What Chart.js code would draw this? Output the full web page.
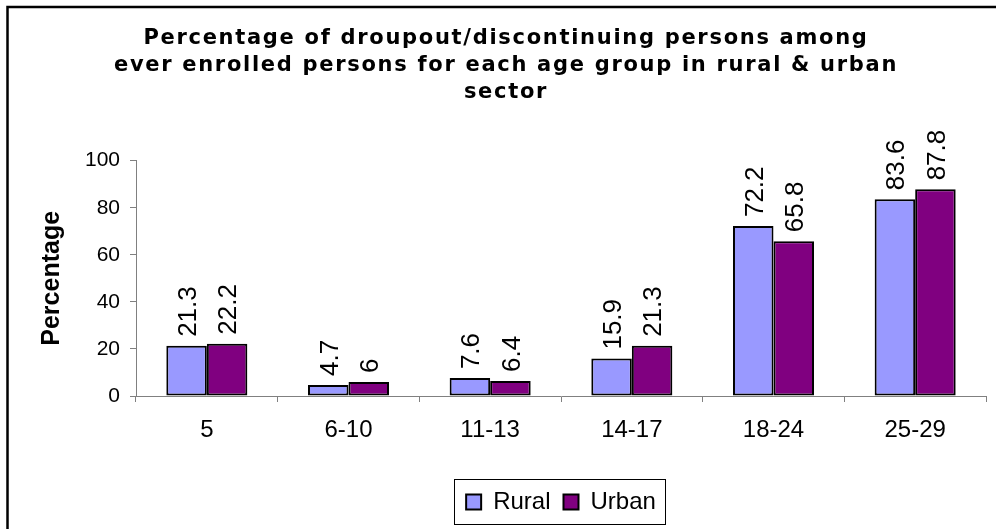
<!DOCTYPE html>
<html>
<head>
<meta charset="utf-8">
<script src="https://cdn.jsdelivr.net/npm/chart.js@4/dist/chart.umd.min.js"></script>
<style>
  html, body { margin: 0; padding: 0; background: #ffffff; }
  #wrap { width: 996px; height: 529px; position: relative; }
</style>
</head>
<body>
<div id="wrap"><canvas id="c" width="996" height="529"></canvas></div>
<script>
const categories = ["5", "6-10", "11-13", "14-17", "18-24", "25-29"];
const ruralValues = [21.3, 4.7, 7.6, 15.9, 72.2, 83.6];
const urbanValues = [22.2, 6, 6.4, 21.3, 65.8, 87.8];
const seriesNames = ["Rural", "Urban"];
const titleLines = [
  "Percentage of droupout/discontinuing persons among",
  "ever enrolled persons for each age group in rural & urban",
  "sector"
];
const yAxisTitle = "Percentage";
const yTickValues = [0, 20, 40, 60, 80, 100];

const frameBorder = {
  id: 'frameBorder',
  afterDraw(chart) {
    const ctx = chart.ctx;
    ctx.save();
    ctx.strokeStyle = '#000';
    ctx.lineWidth = 2.5;
    ctx.strokeRect(7.5, 7, 1200, 1200);
    ctx.restore();
  }
};

const titleSpacing = {
  id: 'titleSpacing',
  beforeDraw(chart) {
    const tb = chart.titleBlock;
    if (tb && !tb._spaced) {
      const orig = tb.draw.bind(tb);
      tb.draw = function () {
        const ctx = chart.ctx;
        ctx.save();
        ctx.letterSpacing = '1.7px';
        orig();
        ctx.restore();
      };
      tb._spaced = true;
    }
  }
};

const legendBorder = {
  id: 'legendBorder',
  afterDraw(chart) {
    const lg = chart.legend;
    if (!lg || !lg.legendHitBoxes || !lg.legendHitBoxes.length) return;
    const hb = lg.legendHitBoxes;
    let l = Infinity, r = -Infinity, t = Infinity, b = -Infinity;
    hb.forEach(h => {
      l = Math.min(l, h.left); r = Math.max(r, h.left + h.width);
      t = Math.min(t, h.top); b = Math.max(b, h.top + h.height);
    });
    const ctx = chart.ctx;
    ctx.save();
    ctx.strokeStyle = '#000';
    ctx.lineWidth = 1;
    ctx.strokeRect(Math.round(l - 12) + 0.5, Math.round(t - 11) + 0.5, Math.round(r - l + 21), Math.round(b - t + 21));
    ctx.restore();
  }
};

const barLabels = {
  id: 'barLabels',
  afterDatasetsDraw(chart) {
    const ctx = chart.ctx;
    ctx.save();
    const size = 26;
    ctx.font = size + 'px "Liberation Sans", Arial, sans-serif';
    ctx.fillStyle = '#000';
    ctx.textAlign = 'left';
    ctx.textBaseline = 'alphabetic';
    chart.data.datasets.forEach((ds, di) => {
      const meta = chart.getDatasetMeta(di);
      meta.data.forEach((el, i) => {
        const txt = String(ds.data[i]);
        ctx.save();
        ctx.translate(el.x + size * 0.716 / 2, el.y - 9);
        ctx.rotate(-Math.PI / 2);
        ctx.fillText(txt, 0, 0);
        ctx.restore();
      });
    });
    ctx.restore();
  }
};

new Chart(document.getElementById('c'), {
  type: 'bar',
  data: {
    labels: categories,
    datasets: [
      {
        label: seriesNames[0],
        data: ruralValues,
        backgroundColor: '#9999FF',
        borderColor: '#000000',
        borderWidth: 2,
        borderSkipped: false,
        categoryPercentage: 0.572,
        barPercentage: 1.0
      },
      {
        label: seriesNames[1],
        data: urbanValues,
        backgroundColor: '#800080',
        borderColor: '#000000',
        borderWidth: 2,
        borderSkipped: false,
        categoryPercentage: 0.572,
        barPercentage: 1.0
      }
    ]
  },
  options: {
    responsive: false,
    animation: false,
    devicePixelRatio: 1,
    layout: { padding: { top: 0, left: 26, right: 10, bottom: 5 } },
    plugins: {
      title: {
        display: true,
        text: titleLines,
        color: '#000',
        font: { family: '"DejaVu Sans", Verdana, sans-serif', weight: 'bold', size: 21, lineHeight: 1.28 },
        padding: { top: 25, bottom: 55 }
      },
      legend: {
        display: true,
        position: 'bottom',
        fullSize: false,
        labels: {
          color: '#000',
          font: { family: '"Liberation Sans", Arial, sans-serif', size: 24 },
          boxWidth: 15,
          boxHeight: 15,
          padding: 13,
          generateLabels(chart) {
            return chart.data.datasets.map((ds, i) => ({
              text: ds.label,
              fillStyle: ds.backgroundColor,
              strokeStyle: '#000',
              lineWidth: 2,
              hidden: false,
              datasetIndex: i,
              fontColor: '#000'
            }));
          }
        }
      },
      tooltip: { enabled: false }
    },
    scales: {
      x: {
        afterFit(scale) { scale.height = 81; },
        grid: { display: true, drawOnChartArea: false, drawTicks: true, tickLength: 6, color: '#808080', offset: true },
        border: { display: true, color: '#808080', width: 1 },
        ticks: { color: '#000', font: { family: '"Liberation Sans", Arial, sans-serif', size: 24 }, padding: 14, maxRotation: 0 }
      },
      y: {
        min: 0,
        max: 100,
        afterFit(scale) { scale.width = 110; },
        afterBuildTicks(scale) { scale.ticks = yTickValues.map(v => ({ value: v })); },
        grid: { display: true, drawOnChartArea: false, drawTicks: true, tickLength: 6, color: '#808080' },
        border: { display: true, color: '#808080', width: 1 },
        ticks: { color: '#000', font: { family: '"Liberation Sans", Arial, sans-serif', size: 21 }, padding: 10 },
        title: {
          display: true,
          text: yAxisTitle,
          color: '#000',
          font: { family: '"Liberation Sans", Arial, sans-serif', weight: 'bold', size: 25 },
          padding: { top: 11, bottom: 0 }
        }
      }
    }
  },
  plugins: [titleSpacing, barLabels, legendBorder, frameBorder]
});
</script>
</body>
</html>
